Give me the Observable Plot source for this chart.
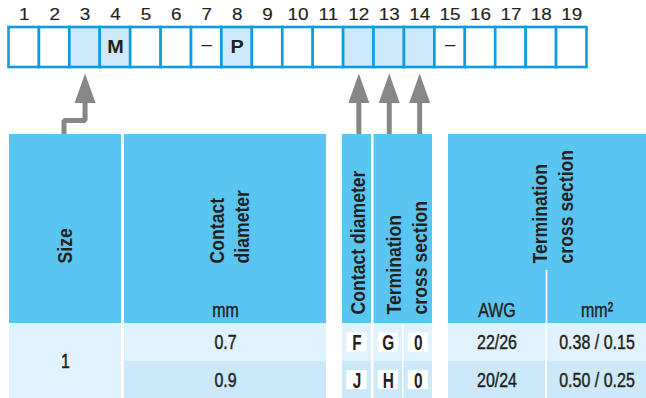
<!DOCTYPE html>
<html><head><meta charset="utf-8">
<script src="https://cdn.jsdelivr.net/npm/d3@7"></script>
<script src="https://cdn.jsdelivr.net/npm/@observablehq/plot@0.6"></script>
<style>html,body{margin:0;padding:0;background:#fff}svg{display:block}</style>
</head><body><div id="chart"></div>
<script>
// ---------- data ----------
const positions = d3.range(1, 20);
const highlightedPositions = [3, 4, 8, 12, 13, 14];
const fixedCharPositions = [4, 7, 8, 15];
const fixedChars = ["M", "–", "P", "–"];
const arrowPositions = [3, 12, 13, 14];
const sizes = ["1"];
const contactDiameters = ["0.7", "0.9"];
const contactCodes = ["F", "J"];
const terminationCodes = ["G", "H"];
const suffixCodes = ["0", "0"];
const awgValues = ["22/26", "20/24"];
const mm2Values = ["0.38 / 0.15", "0.50 / 0.25"];
const headerSize = "Size";
const headerContact = "Contact\ndiameter";
const headerContactCode = "Contact diameter";
const headerTermination = "Termination\ncross section";
const unitMm = "mm";
const unitAwg = "AWG";
const unitMm2 = "mm²";

// ---------- layout & style ----------
const W = 646, H = 398;
const X0 = 8.5, CW = 30.42;
const cx = p => X0 + (p - 0.5) * CW;
const BOX_Y1 = 27, BOX_Y2 = 67;
const HEAD_Y1 = 134, HEAD_Y2 = 323, ROW_Y = [323, 361, 398];
const FONT = '"Liberation Sans",Arial,sans-serif';
const BLUE = "#0d9ddf", LIGHT = "#cde9fa", HEAD = "#5bc5f2", ROW1 = "#e0f2fd", ROW2 = "#cce9fa";
const GRAY = "#878787", INK = "#231f20";
// font sizes -> horizontal scaling factor (emulates the original faces)
const FS_NUM = 16, FS_BOXLET = 18, FS_DASH = 18.5, FS_HEAD = 21, FS_VAL = 20.5, FS_CODE = 22;
const SX = {[FS_NUM]: 1.18, [FS_BOXLET]: 1.1, [FS_DASH]: 1, [FS_HEAD]: 0.84, [FS_VAL]: 0.78, [FS_CODE]: 0.7};
const HEAVY = {stroke: INK, strokeWidth: 0.45};
const LIGHTSTROKE = {stroke: INK, strokeWidth: 0.15};

const cols = {
  size: [9, 121], contact: [124, 326], c1: [342, 371], c2: [373.5, 402], c3: [403.5, 432],
  awg: [448, 545], mm2: [547, 646]
};
const mid = k => (cols[k][0] + cols[k][1]) / 2;
const codeCols = ["c1", "c2", "c3"];

const headerRects = [
  {x1: cols.size[0], x2: cols.size[1]},
  {x1: cols.contact[0], x2: cols.contact[1]},
  {x1: cols.c1[0], x2: cols.c1[1]},
  {x1: cols.c2[0], x2: cols.c3[1]},
  {x1: cols.awg[0], x2: cols.mm2[1]}
];
const bodyRects = [{x1: cols.size[0], x2: cols.size[1], y1: ROW_Y[0], y2: ROW_Y[2], fill: ROW1}];
contactDiameters.forEach((_, i) => {
  ["contact", "c1", "c2", "c3", "awg", "mm2"].forEach(k => {
    bodyRects.push({x1: cols[k][0], x2: cols[k][1], y1: ROW_Y[i], y2: ROW_Y[i + 1], fill: i === 0 ? ROW1 : ROW2});
  });
});
const rowMid = i => (ROW_Y[i] + ROW_Y[i + 1]) / 2;

const codeCells = [];
contactDiameters.forEach((_, i) => {
  [contactCodes[i], terminationCodes[i], suffixCodes[i]].forEach((c, j) => {
    codeCells.push({x: mid(codeCols[j]), y: rowMid(i), c});
  });
});

const heads = arrowPositions.flatMap(p => [
  {p, x: cx(p) - 10.5, y: 102.5}, {p, x: cx(p), y: 73}, {p, x: cx(p) + 10.5, y: 102.5}
]);
const shafts = arrowPositions.flatMap(p => p === 3
  ? [{p, x: cx(p), y: 100}, {p, x: cx(p), y: 120}, {p, x: mid("size") - 1.5, y: 120}, {p, x: mid("size") - 1.5, y: HEAD_Y1}]
  : [{p, x: cx(p), y: 100}, {p, x: cx(p), y: HEAD_Y1}]);

const fixed = fixedCharPositions.map((p, i) => ({p, c: fixedChars[i]}));
const T = {fill: INK, fontFamily: FONT};

const chart = Plot.plot({
  width: W, height: H, margin: 0,
  x: {domain: [0, W], range: [0, W], axis: null},
  y: {domain: [0, H], range: [0, H], axis: null},
  color: {type: "identity"},
  style: {fontFamily: FONT, background: "#fff"},
  marks: [
    Plot.text(positions, {x: cx, y: 14, text: d => String(d), fontSize: FS_NUM, ...T, ...LIGHTSTROKE}),
    Plot.rect(positions, {x1: d => cx(d) - CW / 2, x2: d => cx(d) + CW / 2, y1: BOX_Y1, y2: BOX_Y2,
      fill: d => highlightedPositions.includes(d) ? LIGHT : "#ffffff", stroke: BLUE, strokeWidth: 2.6}),
    Plot.text(fixed.filter(d => d.c !== "–"), {x: d => cx(d.p), y: 47, text: "c", fontSize: FS_BOXLET, fontWeight: "bold", ...T}),
    Plot.text(fixed.filter(d => d.c === "–"), {x: d => cx(d.p), y: 44, text: "c", fontSize: FS_DASH, ...T}),
    Plot.line(shafts, {x: "x", y: "y", z: "p", stroke: GRAY, strokeWidth: 5, strokeLinejoin: "miter", strokeLinecap: "butt"}),
    Plot.line(heads, {x: "x", y: "y", z: "p", fill: GRAY, stroke: "none", curve: "linear-closed"}),
    Plot.rect(headerRects, {x1: "x1", x2: "x2", y1: HEAD_Y1, y2: HEAD_Y2, fill: HEAD}),
    Plot.ruleX([cols.awg[1] + 1], {y1: 270, y2: HEAD_Y2, stroke: "#ffffff", strokeWidth: 1.6}),
    Plot.rect(bodyRects, {x1: "x1", x2: "x2", y1: "y1", y2: "y2", fill: "fill"}),
    Plot.rect(codeCells, {x1: d => d.x - 10, x2: d => d.x + 10, y1: d => d.y - 9.5, y2: d => d.y + 9.5, fill: "#ffffff"}),
    Plot.text(codeCells, {x: "x", y: d => d.y + 0.5, text: "c", fontSize: FS_CODE, fontWeight: "bold", ...T}),
    Plot.text([headerSize], {x: mid("size"), y: 263, text: d => d, rotate: -90, textAnchor: "start", fontSize: FS_HEAD, fontWeight: "bold", ...T}),
    Plot.text([headerContact], {x: 228, y: 263, text: d => d, rotate: -90, textAnchor: "start", lineHeight: 1.2, fontSize: FS_HEAD, fontWeight: "bold", ...T}),
    Plot.text([unitMm], {x: mid("contact"), y: 310, text: d => d, fontSize: FS_VAL, ...T, ...HEAVY}),
    Plot.text([headerContactCode], {x: mid("c1") + 1, y: 314, text: d => d, rotate: -90, textAnchor: "start", fontSize: FS_HEAD, fontWeight: "bold", ...T}),
    Plot.text([headerTermination], {x: 405, y: 314, text: d => d, rotate: -90, textAnchor: "start", lineHeight: 1.24, fontSize: FS_HEAD, fontWeight: "bold", ...T}),
    Plot.text([headerTermination], {x: 551, y: 263, text: d => d, rotate: -90, textAnchor: "start", lineHeight: 1.24, fontSize: FS_HEAD, fontWeight: "bold", ...T}),
    Plot.text([unitAwg], {x: mid("awg"), y: 310, text: d => d, fontSize: FS_VAL, ...T, ...HEAVY}),
    Plot.text([unitMm2], {x: mid("mm2"), y: 310, text: d => d, fontSize: FS_VAL, ...T, ...HEAVY}),
    Plot.text(sizes, {x: mid("size"), y: 361, text: d => d, fontSize: FS_VAL, ...T, ...HEAVY}),
    Plot.text(contactDiameters, {x: mid("contact"), y: (d, i) => rowMid(i), text: d => d, fontSize: FS_VAL, ...T, ...HEAVY}),
    Plot.text(awgValues, {x: mid("awg"), y: (d, i) => rowMid(i), text: d => d, fontSize: FS_VAL, ...T, ...HEAVY}),
    Plot.text(mm2Values, {x: mid("mm2"), y: (d, i) => rowMid(i), text: d => d, fontSize: FS_VAL, ...T, ...HEAVY})
  ]
});
// scale glyphs horizontally (along each text's own baseline)
d3.select(chart).selectAll("g").each(function () {
  const fs = this.getAttribute("font-size");
  const s = fs != null ? SX[+fs] : undefined;
  if (s == null || s === 1) return;
  d3.select(this).selectAll(":scope > text").each(function () {
    const t = this.getAttribute("transform");
    if (t) this.setAttribute("transform", `${t} scale(${s},1)`);
    else {
      const x = this.getAttribute("x") || 0, y = this.getAttribute("y") || 0;
      this.removeAttribute("x"); this.removeAttribute("y");
      this.setAttribute("transform", `translate(${x},${y}) scale(${s},1)`);
    }
  });
});
document.getElementById("chart").appendChild(chart);
</script>
</body></html>
